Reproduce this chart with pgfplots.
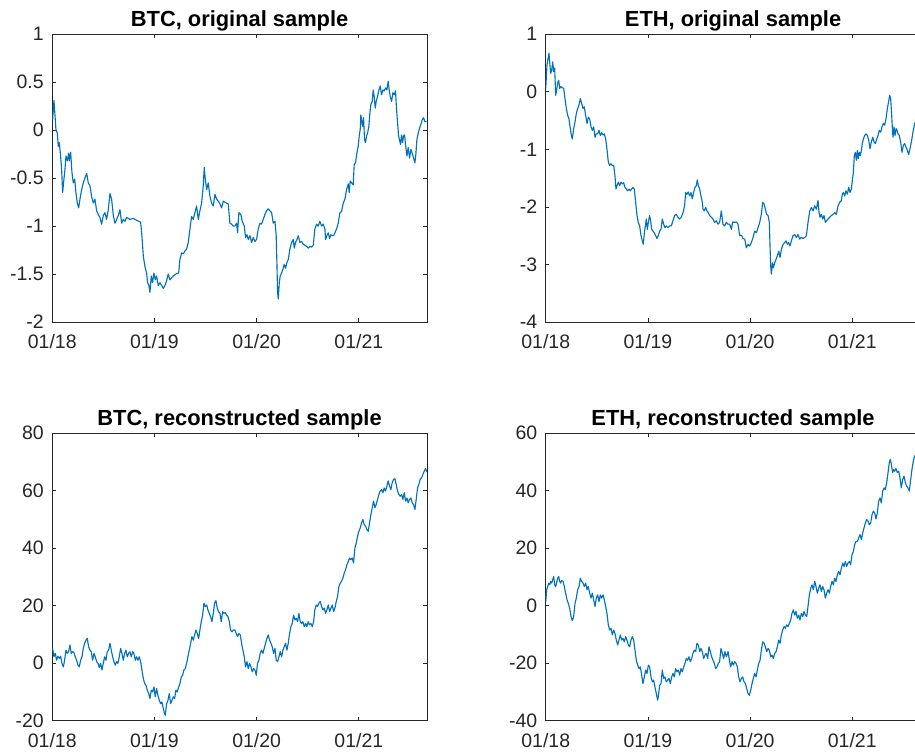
\documentclass[border=0pt]{standalone}
\usepackage{pgfplots}
\pgfplotsset{compat=1.18}
\usepackage{fontspec}
\setmainfont{Liberation Sans}
\definecolor{matblue}{RGB}{0,114,189}
\definecolor{axgray}{RGB}{38,38,38}
\newcommand{\ticksize}{\fontsize{14.6}{17}\selectfont}
\newcommand{\titlesize}{\fontsize{16.4}{19}\selectfont}
\pgfplotsset{
  ser/.style={color=matblue, line width=0.85pt, mark=none, line join=round},
  panel/.style={
    scale only axis, width=281pt, height=215.8pt, anchor=south west,
    xmin=0, xmax=44, xtick={0,12,24,36}, xticklabels={01/18,01/19,01/20,01/21},
    tick align=inside, major tick length=2.8pt,
    axis line style={draw=axgray, line width=0.55pt},
    tick style={draw=axgray, line width=0.55pt},
    ticklabel style={font=\ticksize, text=axgray},
    yticklabel style={inner sep=0pt, xshift=-6.2pt},
    xticklabel style={inner sep=0pt, yshift=-9pt},
    every axis title shift=0pt,
    title style={font=\titlesize\bfseries, at={(0.5,1)}, anchor=base, inner sep=0pt, yshift=5.7pt},
  }
}
\begin{document}
\begin{tikzpicture}
% BTC original
\begin{axis}[panel, at={(39.2pt,324pt)}, title={BTC, original sample},
  ymin=-2, ymax=1, ytick={-2,-1.5,-1,-0.5,0,0.5,1}, yticklabels={-2,-1.5,-1,-0.5,0,0.5,1}]
\addplot[ser] coordinates {
(0.04,0.11) (0.2,0.31) (0.43,0.01) (0.59,-0.03) (0.71,-0.17) (0.83,-0.13) (0.98,-0.27) (1.1,-0.41) (1.22,-0.65) (1.37,-0.51) (1.49,-0.41) (1.61,-0.27) (1.77,-0.32) (1.92,-0.24) (2.0,-0.32) (2.16,-0.23) (2.31,-0.44) (2.47,-0.55) (2.63,-0.51) (2.78,-0.65) (2.94,-0.76) (3.1,-0.81) (3.25,-0.72) (3.45,-0.62) (3.64,-0.55) (3.84,-0.50) (4.04,-0.45) (4.23,-0.55) (4.43,-0.58) (4.62,-0.69) (4.82,-0.76) (5.01,-0.72) (5.21,-0.84) (5.4,-0.88) (5.6,-0.91) (5.8,-0.98) (5.99,-0.89) (6.19,-0.86) (6.38,-0.93) (6.58,-0.83) (6.78,-0.66) (6.97,-0.72) (7.17,-0.89) (7.36,-0.97) (7.56,-0.93) (7.75,-0.89) (7.95,-0.83) (8.15,-0.97) (8.34,-0.93) (8.54,-0.95) (8.73,-0.91) (9.12,-0.93) (9.52,-0.92) (9.91,-0.94) (10.38,-0.96) (10.53,-1.10) (10.69,-1.31) (10.88,-1.42) (11.08,-1.49) (11.2,-1.59) (11.35,-1.62) (11.47,-1.69) (11.63,-1.52) (11.78,-1.59) (11.94,-1.49) (12.1,-1.56) (12.25,-1.52) (12.45,-1.62) (12.65,-1.59) (12.84,-1.62) (13.04,-1.65) (13.23,-1.62) (13.43,-1.57) (13.62,-1.50) (13.82,-1.56) (14.02,-1.54) (14.21,-1.52) (14.52,-1.50) (14.84,-1.49) (14.99,-1.35) (15.19,-1.28) (15.39,-1.29) (15.58,-1.26) (15.78,-1.24) (15.97,-1.17) (16.17,-1.03) (16.36,-0.90) (16.56,-0.93) (16.76,-0.86) (16.95,-0.79) (17.15,-0.93) (17.34,-0.84) (17.54,-0.76) (17.73,-0.58) (17.85,-0.39) (17.97,-0.51) (18.13,-0.62) (18.32,-0.55) (18.52,-0.69) (18.71,-0.76) (18.91,-0.79) (19.1,-0.67) (19.3,-0.72) (19.5,-0.74) (19.69,-0.77) (19.89,-0.81) (20.08,-0.74) (20.47,-0.76) (20.67,-0.77) (20.86,-0.97) (21.06,-0.98) (21.26,-1.00)
(21.45,-1.0) (21.65,-0.97) (21.76,-1.07) (21.92,-0.86) (22.15,-0.88) (22.31,-0.95) (22.55,-1.0) (22.7,-1.12) (22.86,-1.09) (23.02,-1.14) (23.21,-1.10) (23.41,-1.17) (23.6,-1.12) (23.8,-1.16) (23.99,-1.14) (24.19,-1.03) (24.39,-0.97) (24.58,-0.98) (24.78,-0.93) (24.97,-0.88) (25.17,-0.84) (25.36,-0.82) (25.56,-0.84) (25.76,-0.86) (25.95,-0.97) (26.15,-0.95) (26.3,-1.10) (26.38,-1.38) (26.46,-1.69) (26.54,-1.76) (26.66,-1.59) (26.77,-1.52) (26.93,-1.49) (27.09,-1.45) (27.24,-1.40) (27.4,-1.44) (27.56,-1.38) (27.71,-1.35) (27.91,-1.24) (28.1,-1.17) (28.3,-1.14) (28.42,-1.23) (28.57,-1.17) (28.73,-1.14) (28.89,-1.10) (29.08,-1.17) (29.28,-1.16) (29.47,-1.19) (29.67,-1.20) (29.86,-1.21) (30.06,-1.23) (30.26,-1.21) (30.45,-1.22) (30.65,-1.20) (30.84,-1.03) (31.04,-0.98) (31.23,-1.0) (31.43,-0.95) (31.63,-1.0) (31.82,-0.98) (32.02,-1.03) (32.1,-1.14) (32.25,-1.10) (32.41,-1.07) (32.57,-1.13) (32.72,-1.09) (32.88,-1.10) (33.04,-1.10) (33.19,-1.07) (33.39,-1.03) (33.58,-0.97) (33.78,-0.86) (33.97,-0.85) (34.17,-0.76) (34.37,-0.72) (34.56,-0.62) (34.76,-0.56) (34.87,-0.65) (34.99,-0.53) (35.15,-0.55) (35.34,-0.57) (35.46,-0.36) (35.62,-0.34) (35.77,-0.24) (35.93,-0.17) (36.05,-0.06) (36.17,0.01) (36.24,0.16) (36.32,0.11) (36.44,0.04) (36.56,0.13) (36.67,-0.10) (36.79,-0.13) (36.91,-0.06) (37.03,-0.03) (37.18,0.04) (37.3,0.18) (37.42,0.27) (37.58,0.30) (37.69,0.42) (37.81,0.35) (37.93,0.23) (38.04,0.30) (38.2,0.35) (38.36,0.42) (38.51,0.46) (38.67,0.37) (38.83,0.42) (38.98,0.41) (39.14,0.44) (39.3,0.42) (39.45,0.51) (39.57,0.42) (39.69,0.35) (39.85,0.30) (40.0,0.39) (40.16,0.37) (40.31,0.41) (40.43,0.22) (40.55,0.08) (40.67,-0.06) (40.78,-0.10) (40.9,-0.15) (41.02,-0.05) (41.14,-0.13) (41.25,-0.06) (41.37,-0.05) (41.49,-0.15) (41.65,-0.27) (41.8,-0.18) (41.96,-0.29) (42.12,-0.20) (42.27,-0.24) (42.43,-0.29) (42.59,-0.34) (42.7,-0.25) (42.82,-0.10) (42.98,-0.03) (43.13,0.02) (43.29,0.06) (43.45,0.11) (43.6,0.13) (43.76,0.09) (43.95,0.09)
};
\end{axis}
% ETH original
\begin{axis}[panel, at={(409.3pt,324pt)}, title={ETH, original sample},
  ymin=-4, ymax=1, ytick={-4,-3,-2,-1,0,1}, yticklabels={-4,-3,-2,-1,0,1}]
\addplot[ser] coordinates {
(0.0,0.06) (0.15,0.47) (0.27,0.58) (0.38,0.67) (0.46,0.52) (0.58,0.32) (0.7,0.38) (0.82,0.52) (0.93,0.35) (1.05,0.41) (1.17,-0.06) (1.28,0.03) (1.4,0.15) (1.52,0.20) (1.64,0.06) (1.79,0.09) (1.95,0.07) (2.11,0.06) (2.26,-0.12) (2.42,-0.29) (2.58,-0.41) (2.73,-0.47) (2.89,-0.64) (3.01,-0.76) (3.12,-0.82) (3.28,-0.64) (3.44,-0.52) (3.59,-0.38) (3.75,-0.29) (3.91,-0.23) (4.06,-0.12) (4.22,-0.20) (4.38,-0.29) (4.53,-0.26) (4.69,-0.41) (4.85,-0.55) (5.0,-0.44) (5.16,-0.47) (5.32,-0.61) (5.47,-0.67) (5.63,-0.61) (5.79,-0.79) (5.94,-0.73) (6.1,-0.73) (6.26,-0.67) (6.41,-0.76) (6.57,-0.71) (6.73,-0.75) (6.88,-0.73) (7.04,-0.82) (7.19,-0.99) (7.35,-1.22) (7.51,-1.28) (7.66,-1.25) (7.82,-1.28) (7.98,-1.28) (8.13,-1.46) (8.25,-1.69) (8.37,-1.63) (8.53,-1.57) (8.68,-1.63) (8.84,-1.57) (9.0,-1.60) (9.15,-1.58) (9.31,-1.66) (9.47,-1.69) (9.62,-1.72) (9.78,-1.69) (9.93,-1.72) (10.09,-1.69) (10.25,-1.66) (10.4,-1.69) (10.56,-1.92) (10.72,-2.15) (10.87,-2.27) (11.03,-2.33) (11.19,-2.50) (11.34,-2.59) (11.46,-2.65) (11.58,-2.45) (11.7,-2.33) (11.81,-2.21) (11.93,-2.39) (12.05,-2.27) (12.2,-2.15) (12.32,-2.24) (12.44,-2.39) (12.6,-2.42) (12.75,-2.45) (12.91,-2.50) (13.07,-2.55) (13.22,-2.50) (13.38,-2.42) (13.54,-2.39) (13.69,-2.21) (13.85,-2.30) (14.0,-2.36) (14.16,-2.33) (14.36,-2.36) (14.55,-2.33) (14.75,-2.33) (14.94,-2.24) (15.14,-2.15) (15.34,-2.13) (15.53,-2.18) (15.73,-2.21) (15.92,-2.18) (16.12,-2.10) (16.31,-1.98) (16.43,-1.75) (16.59,-1.78) (16.74,-1.74) (16.9,-1.81) (17.06,-1.75) (17.21,-1.86) (17.37,-1.75) (17.53,-1.66) (17.68,-1.63) (17.8,-1.53) (17.92,-1.63) (18.08,-1.69) (18.23,-1.81) (18.39,-1.92) (18.47,-2.04) (18.62,-2.07) (18.78,-2.01) (18.94,-2.07) (19.09,-2.10) (19.25,-2.15) (19.45,-2.18) (19.64,-2.21) (19.84,-2.27) (20.03,-2.24) (20.23,-2.30) (20.42,-2.27) (20.62,-2.07) (20.81,-2.30) (21.01,-2.33) (21.21,-2.27) (21.4,-2.30)
(21.61,-2.30) (21.8,-2.39) (21.96,-2.26) (22.19,-2.27) (22.39,-2.26) (22.58,-2.30) (22.78,-2.50) (22.98,-2.49) (23.17,-2.55) (23.37,-2.56) (23.56,-2.71) (23.76,-2.65) (23.95,-2.68) (24.15,-2.62) (24.35,-2.53) (24.54,-2.42) (24.74,-2.45) (24.93,-2.36) (25.13,-2.27) (25.32,-2.13) (25.48,-1.92) (25.64,-1.95) (25.79,-2.04) (25.95,-2.13) (26.11,-2.15) (26.26,-2.27) (26.34,-2.68) (26.42,-3.03) (26.5,-3.17) (26.62,-2.97) (26.73,-3.06) (26.89,-2.97) (27.05,-2.91) (27.2,-2.85) (27.36,-2.77) (27.52,-2.88) (27.67,-2.74) (27.87,-2.65) (28.06,-2.62) (28.22,-2.59) (28.38,-2.65) (28.53,-2.62) (28.69,-2.68) (28.85,-2.59) (29.04,-2.50) (29.24,-2.48) (29.43,-2.53) (29.63,-2.48) (29.82,-2.56) (30.02,-2.53) (30.22,-2.55) (30.41,-2.53) (30.61,-2.50) (30.8,-2.27) (31.0,-2.07) (31.2,-2.01) (31.39,-2.07) (31.59,-1.98) (31.78,-2.04) (31.98,-1.89) (32.1,-2.10) (32.21,-2.18) (32.37,-2.13) (32.53,-2.21) (32.68,-2.15) (32.84,-2.27) (32.99,-2.24) (33.15,-2.21) (33.35,-2.18) (33.54,-2.15) (33.74,-2.13) (33.93,-2.10) (34.13,-2.13) (34.33,-1.98) (34.52,-1.92) (34.72,-1.89) (34.83,-1.78) (34.95,-1.75) (35.11,-1.81) (35.26,-1.72) (35.42,-1.78) (35.58,-1.66) (35.73,-1.75) (35.89,-1.69) (36.01,-1.54) (36.13,-1.40) (36.24,-1.11) (36.36,-1.05) (36.48,-1.19) (36.6,-1.02) (36.71,-1.16) (36.83,-1.05) (36.95,-1.11) (37.07,-1.02) (37.18,-0.90) (37.3,-0.82) (37.46,-0.76) (37.61,-0.73) (37.77,-0.76) (37.93,-0.84) (38.08,-0.99) (38.24,-0.87) (38.4,-0.79) (38.55,-0.87) (38.71,-0.90) (38.87,-0.82) (39.02,-0.76) (39.18,-0.67) (39.34,-0.70) (39.49,-0.61) (39.65,-0.55) (39.81,-0.58) (39.96,-0.47) (40.12,-0.29) (40.27,-0.17) (40.39,-0.06) (40.51,-0.12) (40.63,-0.41) (40.71,-0.64) (40.78,-0.79) (40.9,-0.61) (41.02,-0.76) (41.14,-0.64) (41.25,-0.67) (41.37,-0.73) (41.53,-0.76) (41.68,-0.87) (41.84,-1.05) (42.0,-0.93) (42.15,-0.90) (42.31,-0.96) (42.47,-1.02) (42.62,-1.09) (42.78,-0.99) (42.94,-0.87) (43.13,-0.70) (43.33,-0.55) (44,-0.35)
};
\end{axis}
% BTC reconstructed
\begin{axis}[panel, at={(39.2pt,25pt)}, title={BTC, reconstructed sample},
  ymin=-20, ymax=80, ytick={-20,0,20,40,60,80}, yticklabels={-20,0,20,40,60,80}]
\addplot[ser] coordinates {
(0.04,5.1) (0.2,2.2) (0.36,3.4) (0.51,1.0) (0.67,2.4) (0.83,1.6) (0.98,2.4) (1.14,-0.1) (1.3,-1.3) (1.45,1.0) (1.61,4.5) (1.77,3.4) (1.92,4.0) (2.08,6.3) (2.23,3.4) (2.39,4.0) (2.55,3.6) (2.7,2.2) (2.86,1.0) (3.02,-0.7) (3.17,-1.3) (3.33,1.0) (3.49,2.2) (3.64,5.1) (3.8,6.9) (3.96,8.0) (4.11,8.6) (4.27,5.7) (4.43,4.5) (4.58,4.0) (4.74,1.0) (4.9,3.4) (5.05,2.2) (5.21,0.5) (5.37,-0.1) (5.52,-1.5) (5.68,-0.1) (5.84,-2.4) (5.99,-0.1) (6.15,2.2) (6.31,1.0) (6.46,4.0) (6.62,4.5) (6.78,6.9) (6.93,4.5) (7.09,2.2) (7.24,0.5) (7.4,-0.7) (7.56,0.5) (7.71,-0.1) (7.87,2.2) (8.03,5.1) (8.18,3.4) (8.34,1.0) (8.5,3.4) (8.65,4.5) (8.81,2.2) (8.97,3.4) (9.12,4.0) (9.28,2.2) (9.44,4.0) (9.59,3.4) (9.75,1.0) (9.91,2.2) (10.06,1.0) (10.22,2.2) (10.38,0.5) (10.53,-2.4) (10.69,-5.3) (10.85,-7.1) (11.0,-7.7) (11.16,-9.4) (11.32,-10.6) (11.47,-12.3) (11.63,-9.4) (11.78,-10.0) (11.94,-8.3) (12.1,-11.7) (12.25,-8.8) (12.41,-11.2) (12.57,-12.9) (12.72,-14.1) (12.88,-13.5) (13.04,-15.8) (13.19,-17.6) (13.27,-18.1) (13.43,-14.1) (13.59,-12.9) (13.74,-10.6) (13.9,-14.1) (14.06,-12.9) (14.21,-11.7) (14.37,-12.3) (14.52,-9.4) (14.68,-10.0) (14.84,-8.3) (14.99,-7.1) (15.15,-4.8) (15.31,-4.2) (15.46,-2.4) (15.62,-1.9) (15.78,-0.1) (15.93,2.2) (16.09,4.5) (16.25,6.9) (16.4,9.2) (16.56,8.0) (16.72,9.8) (16.87,11.5) (17.03,10.3) (17.19,8.6) (17.34,11.5) (17.5,14.4) (17.66,16.7) (17.81,20.8) (17.97,19.7) (18.13,20.2) (18.28,18.5) (18.44,17.3) (18.59,16.2) (18.75,14.4) (18.91,17.3) (19.06,20.8) (19.22,21.7) (19.38,19.1) (19.53,17.9) (19.69,17.3) (19.85,14.4) (20.0,17.9) (20.16,17.3) (20.32,17.6) (20.47,16.7) (20.63,16.2) (20.79,14.4) (20.94,11.5) (21.1,10.9) (21.26,11.5)
(21.45,11.5) (21.61,10.3) (21.76,9.2) (21.92,10.3) (22.08,9.8) (22.23,6.9) (22.39,4.5) (22.55,2.2) (22.7,-1.3) (22.86,0.5) (23.02,-1.9) (23.17,-0.1) (23.33,-1.3) (23.49,-3.0) (23.64,-1.9) (23.8,-2.4) (23.95,-4.2) (24.11,-0.1) (24.27,1.0) (24.42,3.4) (24.58,4.5) (24.74,3.4) (24.89,5.1) (25.05,6.9) (25.21,8.6) (25.36,9.8) (25.52,8.0) (25.68,6.9) (25.83,5.7) (25.99,3.4) (26.15,5.1) (26.3,1.0) (26.46,0.5) (26.62,2.2) (26.77,4.0) (26.93,2.2) (27.09,4.5) (27.24,5.7) (27.4,6.9) (27.56,4.5) (27.71,6.9) (27.87,10.3) (28.03,12.7) (28.18,13.8) (28.34,16.7) (28.5,15.0) (28.65,15.6) (28.81,14.4) (28.96,17.3) (29.12,14.4) (29.28,13.8) (29.43,14.4) (29.59,12.7) (29.75,13.8) (29.9,12.7) (30.06,14.4) (30.22,13.3) (30.37,13.8) (30.53,12.7) (30.69,14.4) (30.84,18.5) (31.0,20.2) (31.16,19.7) (31.31,20.8) (31.47,21.4) (31.63,19.7) (31.78,18.5) (31.94,19.1) (32.1,17.3) (32.25,18.5) (32.41,20.2) (32.57,17.9) (32.72,19.1) (32.88,20.2) (33.04,17.9) (33.19,19.1) (33.35,21.4) (33.5,23.1) (33.66,26.6) (33.82,27.8) (33.97,28.4) (34.13,29.5) (34.29,31.3) (34.44,32.4) (34.6,34.2) (34.76,35.3) (34.91,36.5) (35.07,35.9) (35.23,36.5) (35.38,34.8) (35.54,40.0) (35.7,41.7) (35.85,44.1) (36.01,45.8) (36.17,47.0) (36.32,48.7) (36.48,49.9) (36.64,48.1) (36.79,47.6) (36.95,46.4) (37.11,45.8) (37.26,48.7) (37.42,51.6) (37.58,54.0) (37.73,56.3) (37.89,54.0) (38.04,55.1) (38.2,56.9) (38.36,58.6) (38.51,59.8) (38.67,60.3) (38.83,59.2) (38.98,60.9) (39.14,59.8) (39.3,61.5) (39.45,63.3) (39.61,61.5) (39.77,60.3) (39.92,62.7) (40.08,63.8) (40.24,64.1) (40.39,62.1) (40.55,59.8) (40.71,58.6) (40.86,58.0) (41.02,58.6) (41.18,56.9) (41.33,59.2) (41.49,56.3) (41.65,57.4) (41.8,55.7) (41.96,56.9) (42.12,57.4) (42.27,55.7) (42.43,55.1) (42.59,53.4) (42.74,56.9) (42.9,60.9) (43.05,62.1) (43.21,63.8) (43.37,64.4) (43.53,65.6) (43.68,66.7) (43.84,67.6) (44.0,66.4)
};
\end{axis}
% ETH reconstructed
\begin{axis}[panel, at={(409.3pt,25pt)}, title={ETH, reconstructed sample},
  ymin=-40, ymax=60, ytick={-40,-20,0,20,40,60}, yticklabels={-40,-20,0,20,40,60}]
\addplot[ser] coordinates {
(0.0,1.4) (0.11,5.5) (0.23,6.6) (0.35,7.8) (0.46,7.2) (0.58,8.4) (0.7,7.8) (0.82,9.0) (0.93,10.1) (1.05,7.2) (1.17,6.6) (1.28,8.0) (1.4,9.5) (1.52,10.1) (1.64,8.4) (1.75,7.8) (1.87,8.7) (2.03,8.4) (2.18,6.6) (2.34,4.3) (2.5,2.0) (2.65,0.8) (2.81,-0.9) (2.97,-3.8) (3.12,-5.2) (3.28,-3.8) (3.44,0.8) (3.59,2.6) (3.75,5.5) (3.91,6.6) (4.06,9.5) (4.22,8.4) (4.38,7.8) (4.53,6.6) (4.69,7.8) (4.85,5.5) (5.0,6.6) (5.16,4.3) (5.32,2.6) (5.47,4.3) (5.63,2.0) (5.79,-0.3) (5.94,2.6) (6.1,3.7) (6.26,1.4) (6.41,3.7) (6.57,2.6) (6.73,3.7) (6.88,2.0) (7.04,-0.3) (7.19,-2.7) (7.35,-6.7) (7.51,-8.5) (7.66,-7.9) (7.82,-10.2) (7.98,-8.5) (8.13,-9.7) (8.29,-12.0) (8.45,-13.7) (8.6,-12.0) (8.76,-10.2) (8.92,-12.0) (9.07,-11.4) (9.23,-12.6) (9.39,-10.8) (9.54,-12.0) (9.7,-13.7) (9.86,-14.3) (10.01,-12.0) (10.17,-10.8) (10.33,-12.0) (10.48,-15.5) (10.64,-19.0) (10.8,-20.7) (10.95,-21.9) (11.11,-21.3) (11.27,-24.2) (11.42,-27.1) (11.58,-24.8) (11.73,-22.4) (11.89,-23.6) (12.05,-20.7) (12.2,-21.3) (12.36,-24.8) (12.52,-26.5) (12.67,-25.9) (12.83,-28.3) (12.99,-30.6) (13.14,-32.9) (13.22,-31.7) (13.38,-27.7) (13.54,-27.1) (13.69,-22.4) (13.85,-25.3) (14.0,-24.8) (14.16,-26.5) (14.32,-25.9) (14.47,-25.3) (14.63,-27.1) (14.79,-24.8) (14.94,-23.6) (15.1,-24.8) (15.26,-21.9) (15.41,-23.0) (15.57,-22.4) (15.73,-24.2) (15.88,-21.9) (16.04,-23.0) (16.2,-21.3) (16.35,-20.1) (16.51,-18.4) (16.67,-19.0) (16.82,-17.8) (16.98,-19.5) (17.14,-18.4) (17.29,-16.6) (17.45,-15.5) (17.61,-16.0) (17.76,-13.1) (17.92,-13.7) (18.08,-16.0) (18.23,-14.9) (18.39,-16.0) (18.55,-18.4) (18.7,-17.2) (18.86,-16.6) (19.02,-18.4) (19.17,-14.3) (19.33,-16.0) (19.49,-17.8) (19.64,-19.0) (19.8,-20.1) (19.95,-21.9) (20.11,-21.3) (20.27,-20.1) (20.42,-19.5) (20.58,-14.9) (20.74,-16.6) (20.89,-18.4) (21.05,-16.0) (21.21,-17.8) (21.36,-16.6)
(21.41,-16.0) (21.57,-19.0) (21.72,-21.3) (21.88,-19.5) (22.04,-20.7) (22.19,-19.5) (22.35,-20.1) (22.51,-21.3) (22.66,-24.8) (22.82,-26.5) (22.98,-25.3) (23.13,-24.8) (23.29,-26.5) (23.45,-27.1) (23.6,-28.8) (23.76,-30.6) (23.91,-31.2) (24.07,-29.4) (24.23,-27.1) (24.38,-25.3) (24.54,-23.6) (24.7,-24.8) (24.85,-22.4) (25.01,-20.1) (25.17,-19.0) (25.32,-15.5) (25.48,-12.6) (25.64,-13.1) (25.79,-14.3) (25.95,-16.0) (26.11,-14.9) (26.26,-15.5) (26.42,-17.8) (26.58,-17.2) (26.73,-18.4) (26.89,-16.6) (27.05,-16.0) (27.2,-14.3) (27.36,-12.0) (27.52,-13.1) (27.67,-10.2) (27.83,-8.5) (27.99,-7.3) (28.14,-7.9) (28.3,-6.7) (28.46,-7.3) (28.61,-6.2) (28.77,-5.0) (28.92,-2.7) (29.08,-1.5) (29.24,-3.3) (29.39,-2.1) (29.55,-4.4) (29.71,-3.3) (29.86,-5.0) (30.02,-2.7) (30.18,-3.8) (30.33,-2.1) (30.49,-3.3) (30.65,-3.8) (30.8,-0.3) (30.96,3.7) (31.12,6.0) (31.27,7.2) (31.43,5.5) (31.59,8.4) (31.74,6.6) (31.9,4.3) (32.06,6.0) (32.21,7.2) (32.37,4.9) (32.53,6.6) (32.68,5.5) (32.84,2.6) (32.99,4.3) (33.15,5.5) (33.31,4.3) (33.46,6.6) (33.62,8.4) (33.78,7.2) (33.93,9.5) (34.09,8.4) (34.25,10.7) (34.4,11.9) (34.56,10.7) (34.72,13.0) (34.87,14.8) (35.03,13.6) (35.19,15.3) (35.34,13.6) (35.5,14.8) (35.66,15.3) (35.81,14.2) (35.97,17.7) (36.13,18.8) (36.28,21.2) (36.44,22.3) (36.6,22.3) (36.75,23.5) (36.91,24.7) (37.07,22.9) (37.22,25.2) (37.38,27.0) (37.54,28.7) (37.69,29.9) (37.85,29.3) (38.0,28.1) (38.16,28.7) (38.32,31.6) (38.47,32.8) (38.63,32.2) (38.79,30.1) (38.94,32.2) (39.1,36.3) (39.26,37.4) (39.41,35.7) (39.57,39.8) (39.73,40.9) (39.88,40.3) (40.04,42.7) (40.2,46.2) (40.35,49.7) (40.47,50.8) (40.59,49.1) (40.74,46.2) (40.86,47.3) (40.98,46.7) (41.13,47.6) (41.29,46.2) (41.45,46.7) (41.6,44.4) (41.76,40.9) (41.92,43.8) (42.07,45.0) (42.23,42.7) (42.39,41.5) (42.54,40.9) (42.7,39.8) (42.86,43.8) (43.01,47.3) (43.17,50.2) (43.33,52.0) (44,53.5)
};
\end{axis}
\pgfresetboundingbox
\useasboundingbox (0,0) rectangle (686.25pt,565.5pt);
\end{tikzpicture}
\end{document}
